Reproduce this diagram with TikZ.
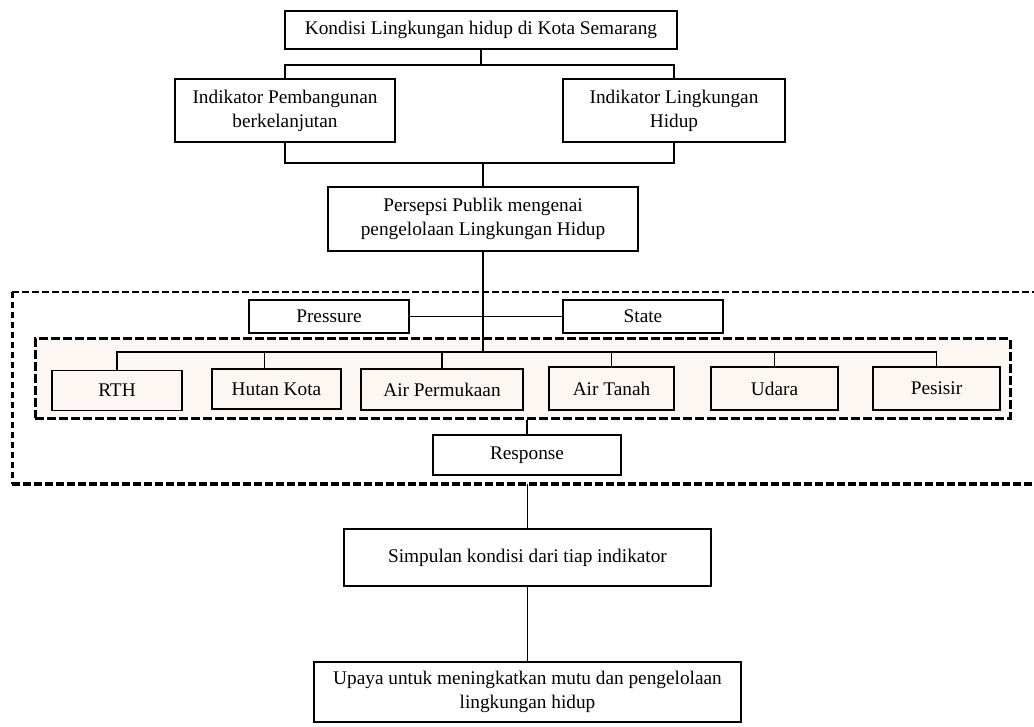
\documentclass[tikz,border=0pt]{standalone}
\usepackage{fontspec}
\setmainfont{Liberation Serif}
\begin{document}
\begin{tikzpicture}[x=1pt,y=-1pt,
  box/.style={draw,line width=1.9pt,rectangle,inner sep=0pt,align=center,font=\fontsize{19.3}{24}\selectfont},
  conn/.style={line width=1.7pt},
  grp/.style={draw,line width=3pt,dash pattern=on 9pt off 3pt,rectangle,inner sep=0pt}]
\useasboundingbox (0,0) rectangle (1034,727);
% groups
\node[grp,fill={rgb,255:red,252;green,247;blue,242},minimum width=975pt,minimum height=79pt] (inner) at (522.5,378.5) {};
\coordinate (otl) at (12,292);
\coordinate (otr) at (1040,292);
\coordinate (obl) at (12,484);
\coordinate (obr) at (1040,484);
\draw[line width=1.7pt,dash pattern=on 7pt off 3pt] (otl) -- (otr);
\draw[line width=3pt,dash pattern=on 6pt off 4pt] (otl) -- (obl);
\draw[line width=4pt,dash pattern=on 8pt off 3pt] (obl) -- (obr);
% nodes
\node[box,minimum width=392pt,minimum height=38pt] (top) at (481,30) {Kondisi Lingkungan hidup di Kota Semarang};
\node[box,minimum width=220pt,minimum height=63pt] (ipb) at (285,110.5) {Indikator Pembangunan\\berkelanjutan};
\node[box,minimum width=222pt,minimum height=63pt] (ilh) at (674,110.5) {Indikator Lingkungan\\Hidup};
\node[box,minimum width=310pt,minimum height=64pt] (persepsi) at (483,219) {Persepsi Publik mengenai\\pengelolaan Lingkungan Hidup};
\node[box,minimum width=160pt,minimum height=33pt] (pressure) at (329,316.5) {Pressure};
\node[box,minimum width=160pt,minimum height=33pt] (state) at (643,316.5) {State};
\node[box,minimum width=130pt,minimum height=40pt] (rth) at (117,390.5) {RTH};
\node[box,minimum width=129pt,minimum height=40pt] (hutan) at (276.5,389) {Hutan Kota};
\node[box,minimum width=162pt,minimum height=41pt] (airp) at (442,389.5) {Air Permukaan};
\node[box,minimum width=125pt,minimum height=43pt] (airt) at (611.5,388.5) {Air Tanah};
\node[box,minimum width=127pt,minimum height=43pt] (udara) at (774.5,388.5) {Udara};
\node[box,minimum width=127pt,minimum height=43pt] (pesisir) at (936.5,388.5) {Pesisir};
\node[box,minimum width=188pt,minimum height=40pt] (response) at (527,455) {Response};
\node[box,minimum width=367pt,minimum height=57pt] (simpulan) at (527.5,557.5) {Simpulan kondisi dari tiap indikator};
\node[box,minimum width=427pt,minimum height=60pt] (upaya) at (527.5,692) {Upaya untuk meningkatkan mutu dan pengelolaan\\lingkungan hidup};
% junctions
\coordinate (j1) at (481,65);
\coordinate (j2) at (483,163);
\coordinate (j3) at (483,352);
% connectors
\draw[conn] (top.south) -- (j1);
\draw[conn] (ipb.north) |- (j1);
\draw[conn] (ilh.north) |- (j1);
\draw[conn] (ipb.south) |- (j2);
\draw[conn] (ilh.south) |- (j2);
\draw[conn] (j2) -- (persepsi.north);
\draw[conn] (persepsi.south) -- (j3);
\draw[conn] (pressure.east) -- (state.west);
\draw[conn] (rth.north) |- (j3);
\draw[conn] (pesisir.north) |- (j3);
\draw[conn] ([xshift=-12pt]hutan.north) -- ([xshift=-12pt]hutan.north |- j3);
\draw[conn] (airp.north) -- (airp.north |- j3);
\draw[conn] (airt.north) -- (airt.north |- j3);
\draw[conn] (udara.north) -- (udara.north |- j3);
\draw[conn] (response.north) -- (response.north |- inner.south);
\draw[conn] (simpulan.north) -- (simpulan.north |- obl);
\draw[conn] (simpulan.south) -- (upaya.north);
\end{tikzpicture}
\end{document}
